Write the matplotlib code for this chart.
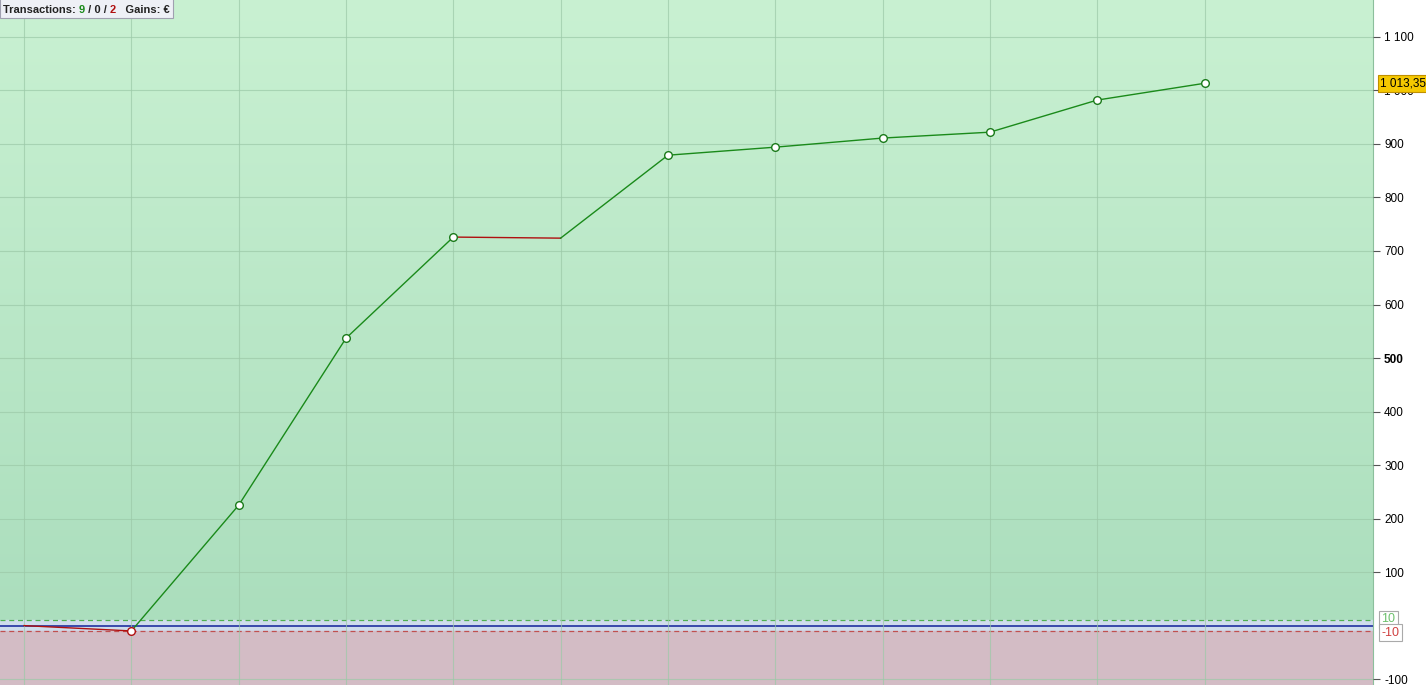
import numpy as np
import matplotlib.pyplot as plt
from matplotlib.colors import LinearSegmentedColormap
from matplotlib.patches import Rectangle

# Données
idx = list(range(12))
equity = [0, -10, 225, 537, 726, 724, 879, 894, 911, 922, 982, 1013.35]
has_marker = [False, True, True, True, True, False, True, True, True, True, True, True]
y_ticks = [1100, 1000, 900, 800, 700, 600, 500, 400, 300, 200, 100, -100]
y_labels = ["1 100", "1 000", "900", "800", "700", "600", "500", "400", "300", "200", "100", "-100"]
upper_band, lower_band = 10, -10
last_label = "1 013,35"

plt.rcParams['font.family'] = ['Liberation Sans', 'DejaVu Sans']

fig = plt.figure(figsize=(14.26, 6.85), dpi=100)
ax = fig.add_axes([0, 0, 1373 / 1426, 1])
x0, x1 = -0.224, 12.57
y0, y1 = -111, 1169
ax.set_xlim(x0, x1)
ax.set_ylim(y0, y1)

# fond : dégradé vert au-dessus, bande bleue, rose en dessous
cmap = LinearSegmentedColormap.from_list("g", ["#abdebd", "#c9f1d2"])
ax.imshow(np.linspace(0, 1, 256).reshape(-1, 1), cmap=cmap, origin="lower",
          extent=[x0, x1, upper_band, y1], aspect="auto", zorder=0)
ax.axhspan(lower_band, upper_band, color="#cfdcec", zorder=0)
ax.axhspan(y0, lower_band, color="#d3bcc5", zorder=0)

ax.set_xticks(idx)
ax.set_yticks(range(-100, 1200, 100))
ax.grid(True, color="#9cc9a8", lw=0.8, alpha=0.7, zorder=1)
ax.set_axisbelow(False)

ax.axhline(0, color="#2030a0", lw=1.2, zorder=2)
ax.axhline(upper_band, color="#50b050", lw=0.9, ls=(0, (4, 3)), zorder=2)
ax.axhline(lower_band, color="#c05050", lw=0.9, ls=(0, (4, 3)), zorder=2)

# courbe : segments verts en hausse, rouges en baisse
for i in range(len(idx) - 1):
    c = "#1a8a1a" if equity[i + 1] >= equity[i] else "#b01010"
    ax.plot(idx[i:i + 2], equity[i:i + 2], color=c, lw=1.0, zorder=3)
for i, v in enumerate(equity):
    if has_marker[i]:
        ec = "#b01010" if i > 0 and v < equity[i - 1] else "#1a7a1a"
        ax.plot(idx[i], v, "o", ms=5.5, mfc="white", mec=ec, mew=1.0, zorder=4)

for s in ["left", "top", "bottom"]:
    ax.spines[s].set_visible(False)
ax.spines["right"].set_color("#8cbf9c")
ax.tick_params(axis="x", length=0, labelbottom=False)
ax.yaxis.tick_right()
ax.set_yticks(y_ticks)
ax.set_yticklabels(y_labels)
ax.tick_params(axis="y", length=5, color="#555555", labelsize=8.5, pad=3)
for t in ax.get_yticklabels():
    if t.get_text() == "500":
        t.set_fontweight("bold")

tr = ax.get_yaxis_transform()
ax.text(1.006, upper_band + 2, "10", transform=tr, color="#6cc06c", fontsize=9,
        va="center", ha="left", clip_on=False,
        bbox=dict(boxstyle="square,pad=0.2", fc="white", ec="#aaaaaa", lw=0.8))
ax.text(1.006, lower_band - 3, "-10", transform=tr, color="#d04040", fontsize=9,
        va="center", ha="left", clip_on=False,
        bbox=dict(boxstyle="square,pad=0.2", fc="white", ec="#aaaaaa", lw=0.8))
ax.text(1.005, equity[-1], last_label, transform=tr, color="black", fontsize=8.5,
        va="center", ha="left", clip_on=False,
        bbox=dict(boxstyle="square,pad=0.2", fc="#f5c800", ec="#c09000", lw=0.8))

# légende en haut à gauche
x = 0.002
fig.canvas.draw()
for part, col in [("Transactions: ", "#222222"), ("9", "#1a8a1a"), (" / 0 / ", "#222222"),
                  ("2", "#b01010"), ("   Gains: €", "#222222")]:
    t = fig.text(x, 0.986, part, fontsize=8, fontweight="bold", va="center", ha="left",
                 color=col, zorder=6)
    bb = t.get_window_extent(renderer=fig.canvas.get_renderer())
    x = fig.transFigure.inverted().transform((bb.x1, bb.y0))[0]
fig.add_artist(Rectangle((0, 0.974), x + 0.002, 0.03, transform=fig.transFigure,
                         fc="#eef0f6", ec="#a0a0b0", lw=0.8, zorder=5))

fig.savefig("out.png", dpi=100)
